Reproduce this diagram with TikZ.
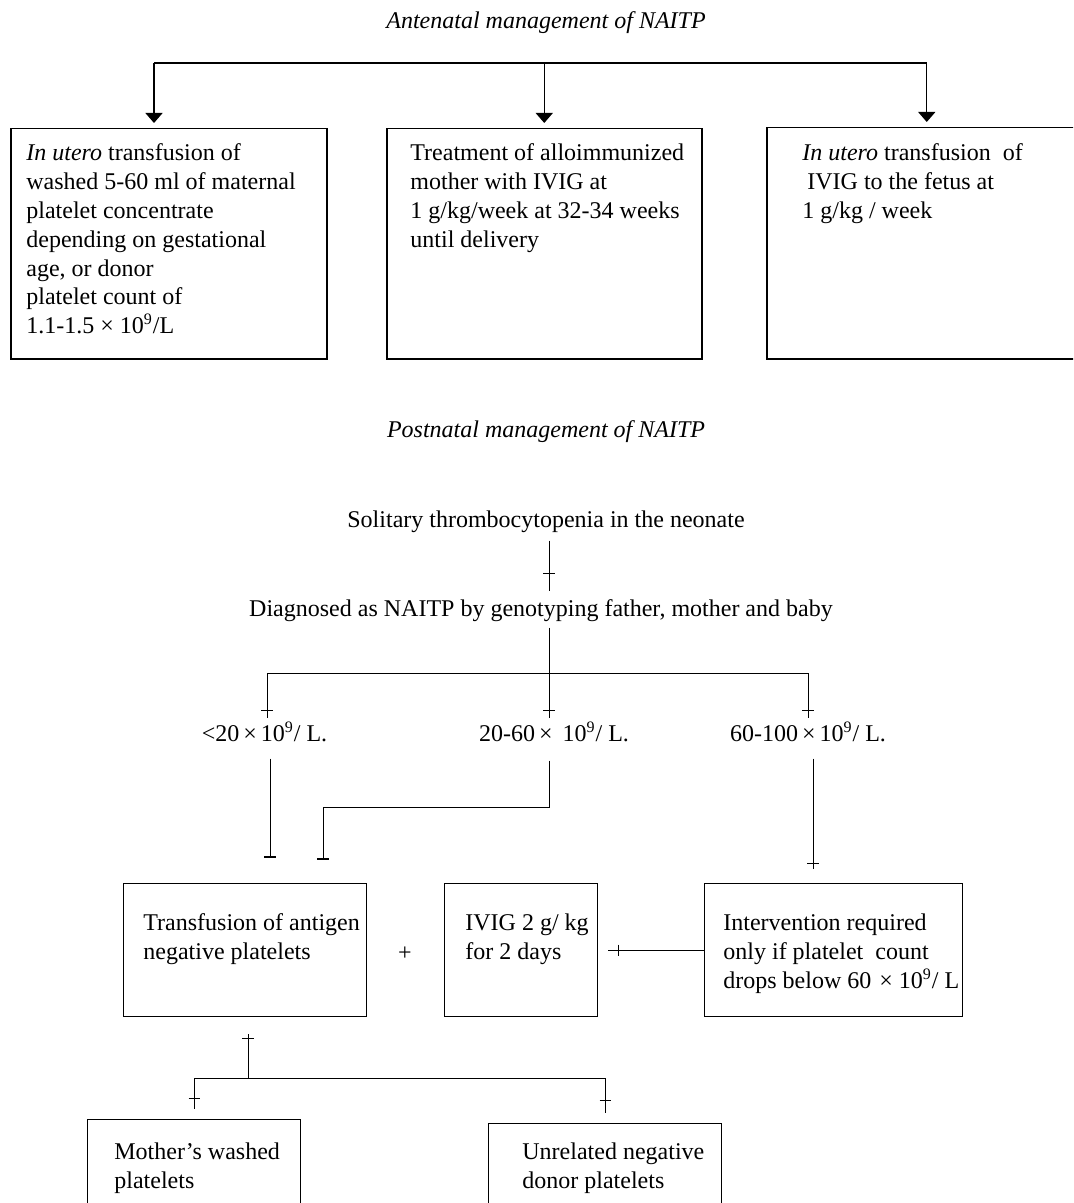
\documentclass[tikz,border=0pt]{standalone}
\usepackage{fontspec}
\setmainfont{Liberation Serif}
\usetikzlibrary{arrows.meta, positioning, calc, decorations.markings}

\begin{document}
\begin{tikzpicture}[
  x=0.5pt, y=-0.5pt,
  every node/.style={font=\fontsize{12pt}{14.4pt}\selectfont, inner sep=0pt},
  box/.style 2 args={draw, line width=0.6pt, anchor=north west,
                     minimum width=#1, minimum height=#2},
  txt/.style={align=left},
  conn/.style={line width=0.5pt},
  arr/.style={-{Triangle[width=8.5pt, length=5pt]}, line width=0.7pt, shorten >=2.5pt},
  tk/.style={conn, postaction={decorate, decoration={markings,
              mark=at position -#1 with {\draw[conn] (0pt,-2.8pt) -- (0pt,2.8pt);}}}},
  tk/.default=4pt,
  endbar/.style={conn, -{Bar[width=5.6pt, line width=0.8pt]}},
]
\useasboundingbox (0,0) rectangle (1073,1203);
\clip (0,0) rectangle (1073,1203);

% antenatal part
\node[anchor=base] (antetitle) at (546,29) {\itshape Antenatal management of NAITP};

\node[box={158pt}{115pt}, line width=0.75pt]   (antA) at (10,128)  {};
\node[box={157.5pt}{115pt}, line width=0.75pt] (antB) at (386,128) {};
\node[box={160pt}{115.5pt}, line width=0.75pt] (antC) at (766,127) {};

\node[txt, below right=7.8pt and 8pt of antA.north west] (antAtxt)
  {\textit{In utero} transfusion of\\ washed 5-60 ml of maternal\\ platelet concentrate\\
   depending on gestational\\ age, or donor\\ platelet count of\\ 1.1-1.5 × 10\textsuperscript{9}/L};
\node[txt, below right=7.8pt and 12pt of antB.north west] (antBtxt)
  {Treatment of alloimmunized\\ mother with IVIG at\\ 1 g/kg/week at 32-34 weeks\\ until delivery};
\node[txt, below right=8.3pt and 18pt of antC.north west] (antCtxt)
  {\textit{In utero} transfusion\ \ of\\ \hspace*{2.5pt}IVIG to the fetus at\\ 1 g/kg / week};

\coordinate (brL) at (154,63);
\coordinate (brR) at (antC.north |- brL);
\draw[line width=0.7pt] (brL) -- (brR);
\draw[arr] (brL) -- (brL |- antA.north);
\draw[arr] (antB.north |- brL) -- (antB.north);
\draw[arr] (brR) -- (antC.north);

% postnatal part
\node[anchor=base] (posttitle) at (546,437) {\itshape Postnatal management of NAITP};
\node[anchor=base] (solitary) at (546,527) {Solitary thrombocytopenia in the neonate};
\node[anchor=base] (diag) at (541,616) {Diagnosed as NAITP by genotyping father, mother and baby};

\coordinate (trunk) at (549,673);
\draw[tk=8.5pt] ($(trunk |- solitary.south)+(0,8)$) -- ($(trunk |- diag.north)+(0,-8)$);
\draw[conn] ($(trunk |- diag.south)+(0,6)$) -- (trunk);

\node[anchor=base] (lowlbl)  at (264.5,741) {<20\,×\,10\textsuperscript{9}/ L.};
\node[anchor=base] (midlbl)  at (554,741)   {20-60\,× \,10\textsuperscript{9}/ L.};
\node[anchor=base] (highlbl) at (808,741)   {60-100\,×\,10\textsuperscript{9}/ L.};

\coordinate (lowtop)  at (267,673);
\coordinate (hightop) at (808,673);
\draw[conn] (lowtop) -- (hightop);
\draw[tk] (lowtop)  -- ($(lowtop |- lowlbl.north)+(0,-3)$);
\draw[tk] (trunk)   -- ($(trunk |- midlbl.north)+(0,-3)$);
\draw[tk] (hightop) -- ($(hightop |- highlbl.north)+(0,-3)$);

\node[box={121.5pt}{66.5pt}] (transf) at (123,883) {};
\node[box={76.5pt}{66.5pt}]  (ivig)   at (444,883) {};
\node[box={129pt}{66.5pt}]   (interv) at (704,883) {};
\node (plus) at (405,954) {+};

\node[txt, below right=15.3pt and 10pt of transf.north west] (transftxt)
  {Transfusion of antigen\\ negative platelets};
\node[txt, below right=15.3pt and 10.5pt of ivig.north west] (ivigtxt)
  {IVIG 2 g/ kg\\ for 2 days};
\node[txt, below right=15.3pt and 9.5pt of interv.north west] (intervtxt)
  {Intervention required\\ only if platelet\ \ count\\ drops below 60\,\,× 10\textsuperscript{9}/ L};

\coordinate (lowin)  at (270,858);
\coordinate (midin)  at (323,860);
\coordinate (highin) at (813,869);
\draw[endbar] ($(lowin |- lowlbl.south)+(0,17)$) -- (lowin);
\draw[endbar] ($(trunk |- midlbl.south)+(0,19)$) |- ($(midin)+(0,-53)$) -- (midin);
\draw[tk=3pt] ($(highin |- highlbl.south)+(0,17)$) -- (highin);
\draw[tk=5pt] (interv.west) -- ($(ivig.east)+(10,0)$);

% platelet sources
\node[box={106.5pt}{60pt}] (mother) at (87,1119) {};
\node[box={116.5pt}{60pt}] (unrel)  at (488,1123) {};
\node[txt, below right=11.8pt and 13.5pt of mother.north west] (mothertxt)
  {Mother’s washed\\ platelets};
\node[txt, below right=9.8pt and 17pt of unrel.north west] (unreltxt)
  {Unrelated negative\\ donor platelets};

\coordinate (kidsbar) at (248,1078);
\draw[tk=2pt] (kidsbar) -- ($(transf.south -| kidsbar)+(0,17)$);
\draw[conn] (mother.north |- kidsbar) -- (unrel.north |- kidsbar);
\draw[tk=5.5pt] (mother.north |- kidsbar) -- ($(mother.north)+(0,-10)$);
\draw[tk=6.5pt] (unrel.north |- kidsbar) -- ($(unrel.north)+(0,-10)$);

\end{tikzpicture}
\end{document}
